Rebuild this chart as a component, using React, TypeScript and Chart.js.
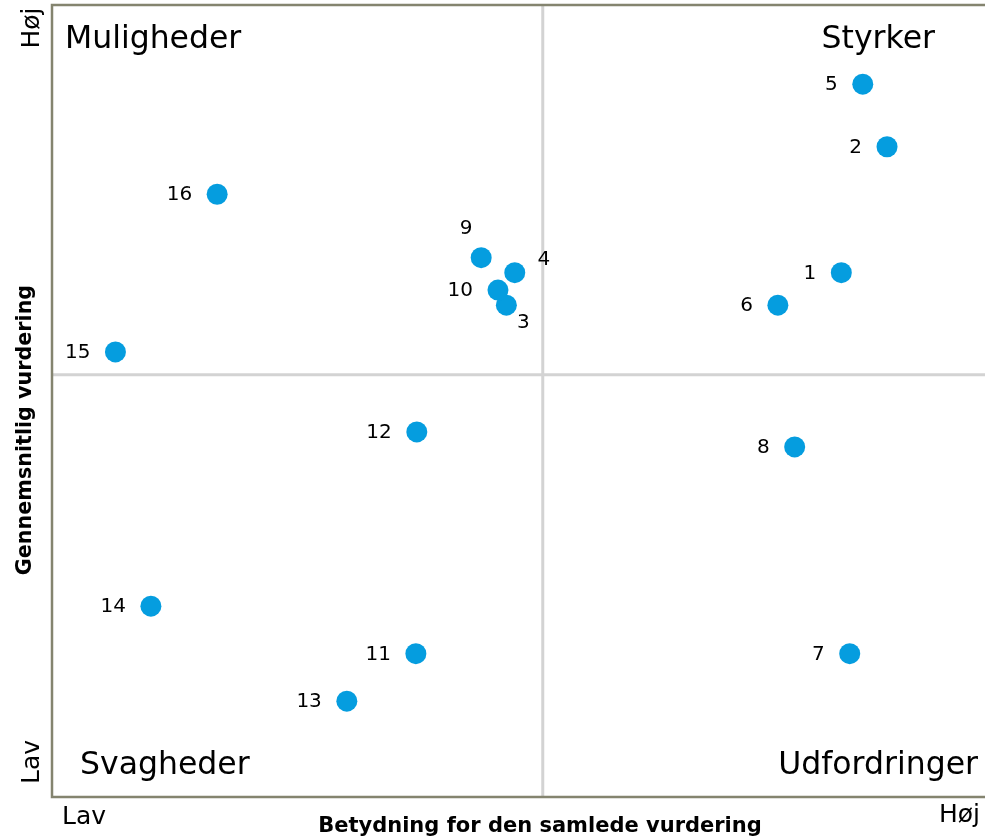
import React, { useEffect, useRef } from "react";
import { Chart, registerables } from "chart.js";

Chart.register(...registerables);

const itemLabels = ["1", "2", "3", "4", "5", "6", "7", "8", "9", "10", "11", "12", "13", "14", "15", "16"];
const importance = [84.6, 89.5, 48.7, 49.6, 86.9, 77.8, 85.5, 79.6, 46.0, 47.8, 39.0, 39.1, 31.6, 10.6, 6.8, 17.7];
const rating = [66.2, 82.1, 62.1, 66.2, 90.0, 62.1, 18.1, 44.2, 68.1, 64.0, 18.1, 46.1, 12.1, 24.1, 56.2, 76.1];
// label placement: "l" left, "ul" up-left, "r" right-up, "dr" down-right
const labelPos = ["l", "l", "dr", "r", "l", "l", "l", "l", "ul", "l", "l", "l", "l", "l", "l", "l"];

const quadrantNames = ["Muligheder", "Styrker", "Svagheder", "Udfordringer"];
const xAxisTitle = "Betydning for den samlede vurdering";
const yAxisTitle = "Gennemsnitlig vurdering";
const lowText = "Lav";
const highText = "Høj";
const midX = 52.6;
const midY = 53.3;

const FONT = "'DejaVu Sans', Verdana, sans-serif";

const overlay = {
  id: "overlay",
  beforeDatasetsDraw(chart: any) {
    const { ctx, chartArea, scales } = chart;
    const xs = scales.x;
    const ys = scales.y;
    ctx.save();
    // quadrant lines
    ctx.strokeStyle = "#d3d3d3";
    ctx.lineWidth = 3;
    const mx = xs.getPixelForValue(midX);
    const my = ys.getPixelForValue(midY);
    ctx.beginPath();
    ctx.moveTo(mx, chartArea.top);
    ctx.lineTo(mx, chartArea.bottom);
    ctx.moveTo(chartArea.left, my);
    ctx.lineTo(chartArea.right + 10, my);
    ctx.stroke();
    // border
    ctx.strokeStyle = "#84846f";
    ctx.lineWidth = 2.5;
    ctx.beginPath();
    ctx.moveTo(chartArea.right + 20, chartArea.top);
    ctx.lineTo(chartArea.left, chartArea.top);
    ctx.lineTo(chartArea.left, chartArea.bottom);
    ctx.lineTo(chartArea.right + 20, chartArea.bottom);
    ctx.stroke();

    ctx.fillStyle = "#000";
    // quadrant names
    ctx.font = `31.5px ${FONT}`;
    ctx.textBaseline = "middle";
    ctx.textAlign = "left";
    ctx.fillText(quadrantNames[0], chartArea.left + 13, 40);
    ctx.textAlign = "right";
    ctx.fillText(quadrantNames[1], 935, 40);
    ctx.textAlign = "left";
    ctx.fillText(quadrantNames[2], chartArea.left + 28, 766);
    ctx.textAlign = "right";
    ctx.fillText(quadrantNames[3], 978, 766);

    // axis end labels
    ctx.font = `25px ${FONT}`;
    ctx.textAlign = "center";
    ctx.fillText(lowText, 84, 817);
    ctx.textAlign = "right";
    ctx.fillText(highText, 980, 815);
    ctx.textAlign = "center";
    ctx.save();
    ctx.translate(32, 28);
    ctx.rotate(-Math.PI / 2);
    ctx.fillText(highText, 0, 0);
    ctx.restore();
    ctx.save();
    ctx.translate(32, 762);
    ctx.rotate(-Math.PI / 2);
    ctx.fillText(lowText, 0, 0);
    ctx.restore();

    // axis titles
    ctx.font = `bold 21px ${FONT}`;
    ctx.fillText(xAxisTitle, 540, 827);
    ctx.font = `bold 20.7px ${FONT}`;
    ctx.save();
    ctx.translate(26, 430);
    ctx.rotate(-Math.PI / 2);
    ctx.fillText(yAxisTitle, 0, 0);
    ctx.restore();

    ctx.restore();
  },
  afterDatasetsDraw(chart: any) {
    const { ctx, scales } = chart;
    ctx.save();
    ctx.font = `20px ${FONT}`;
    ctx.fillStyle = "#000";
    ctx.textBaseline = "middle";
    itemLabels.forEach((lab, i) => {
      const px = scales.x.getPixelForValue(importance[i]);
      const py = scales.y.getPixelForValue(rating[i]);
      const p = labelPos[i];
      if (p === "l") {
        ctx.textAlign = "right";
        ctx.fillText(lab, px - 25, py + 1);
      } else if (p === "ul") {
        ctx.textAlign = "center";
        ctx.fillText(lab, px - 15, py - 29);
      } else if (p === "r") {
        ctx.textAlign = "center";
        ctx.fillText(lab, px + 29, py - 13);
      } else {
        ctx.textAlign = "center";
        ctx.fillText(lab, px + 17, py + 18);
      }
    });
    ctx.restore();
  },
};

export default function App() {
  const ref = useRef<HTMLCanvasElement>(null);
  useEffect(() => {
    document.body.style.margin = "0";
    const chart = new Chart(ref.current!, {
      type: "scatter",
      data: {
        datasets: [
          {
            data: importance.map((x, i) => ({ x, y: rating[i] })),
            backgroundColor: "#059ddf",
            borderWidth: 0,
            pointRadius: 10.5,
            pointHoverRadius: 10.5,
          },
        ],
      },
      options: {
        animation: false,
        responsive: false,
        layout: { autoPadding: false, padding: { left: 52, top: 5, right: 0, bottom: 43 } },
        plugins: { legend: { display: false }, tooltip: { enabled: false } },
        scales: {
          x: { type: "linear", min: 0, max: 100, display: false },
          y: { type: "linear", min: 0, max: 100, display: false },
        },
      },
      plugins: [overlay],
    });
    return () => chart.destroy();
  }, []);
  return (
    <div style={{ position: "absolute", left: 0, top: 0, width: 985, height: 840 }}>
      <canvas ref={ref} width={985} height={840} style={{ width: 985, height: 840 }} />
    </div>
  );
}
